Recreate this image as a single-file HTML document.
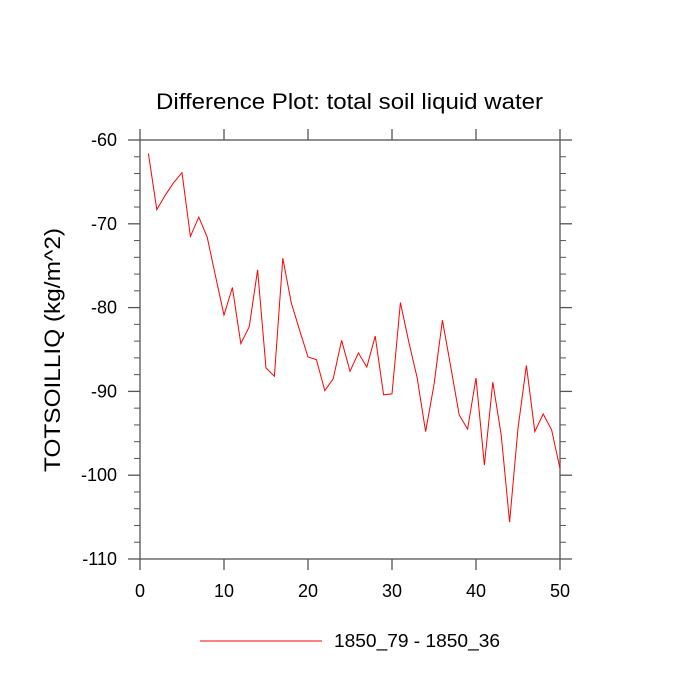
<!DOCTYPE html>
<html><head><meta charset="utf-8"><style>
html,body{margin:0;padding:0;background:#fff;}
svg{display:block;font-family:"Liberation Sans",Arial,sans-serif;}
</style></head><body>
<svg id="chart" width="700" height="700" viewBox="0 0 700 700" xmlns="http://www.w3.org/2000/svg">
<text x="156" y="109" font-size="22" textLength="387" lengthAdjust="spacingAndGlyphs">Difference Plot: total soil liquid water</text>
<text transform="translate(60,472) rotate(-90)" font-size="22" textLength="244" lengthAdjust="spacingAndGlyphs">TOTSOILLIQ  (kg/m^2)</text>
<g id="axes"></g>
<g id="series"></g>
<g>
<line x1="200" y1="641" x2="322" y2="641" stroke="#ff0000" stroke-width="1"/>
<text x="334" y="647" font-size="18" textLength="166" lengthAdjust="spacingAndGlyphs">1850_79 - 1850_36</text>
</g>
</svg>
<script>
const xValues = [1,2,3,4,5,6,7,8,9,10,11,12,13,14,15,16,17,18,19,20,21,22,23,24,25,26,27,28,29,30,31,32,33,34,35,36,37,38,39,40,41,42,43,44,45,46,47,48,49,50];
const diffValues = [-61.6,-68.3,-66.6,-65.1,-63.9,-71.5,-69.2,-71.6,-76.3,-80.9,-77.6,-84.3,-82.3,-75.5,-87.2,-88.2,-74.1,-79.4,-82.7,-85.9,-86.2,-89.9,-88.5,-83.9,-87.6,-85.4,-87.1,-83.4,-90.4,-90.3,-79.4,-84.1,-88.4,-94.8,-89.2,-81.5,-87.1,-92.8,-94.5,-88.4,-98.8,-88.9,-95.2,-105.6,-94.4,-86.9,-94.8,-92.7,-94.6,-99.2];
const xTicks = [0,10,20,30,40,50];
const yTicks = [-110,-100,-90,-80,-70,-60];
const yMinorTicks = [-108,-106,-104,-102,-98,-96,-94,-92,-88,-86,-84,-82,-78,-76,-74,-72,-68,-66,-64,-62];

const L=140,R=560,T=140,B=559;
const xMin=0,xMax=50,yMin=-110,yMax=-60;
function sx(v){return L+(v-xMin)/(xMax-xMin)*(R-L);}
function sy(v){return B-(v-yMin)/(yMax-yMin)*(B-T);}
const NS='http://www.w3.org/2000/svg';
const axes=document.getElementById('axes');
const series=document.getElementById('series');
function mk(tag,attrs,parent){const e=document.createElementNS(NS,tag);for(const k in attrs)e.setAttribute(k,attrs[k]);parent.appendChild(e);return e;}
const frame=mk('rect',{x:L,y:T,width:R-L,height:B-T,fill:'none',stroke:'#555',"stroke-width":1.3},axes);


xTicks.forEach(v=>{
  const x=sx(v);
  const t1=mk('line',{x1:x,y1:B,x2:x,y2:B+11,stroke:'#555',"stroke-width":1.3},axes);
  
  
  const t2=mk('line',{x1:x,y1:T,x2:x,y2:T-11,stroke:'#555',"stroke-width":1.3},axes);
  
  
  const lb=mk('text',{x:x,y:597,"font-size":18,"text-anchor":"middle"},axes);
  lb.textContent=String(v);
  
  
});
yTicks.forEach(v=>{
  const y=sy(v);
  const t1=mk('line',{x1:L-12,y1:y,x2:L,y2:y,stroke:'#555',"stroke-width":1.3},axes);
  
  
  const t2=mk('line',{x1:R,y1:y,x2:R+12,y2:y,stroke:'#555',"stroke-width":1.3},axes);
  
  
  const lb=mk('text',{x:117,y:y+6,"font-size":18,"text-anchor":"end"},axes);
  lb.textContent=String(v);
  
  
});
yMinorTicks.forEach(v=>{
  const y=sy(v);
  const t1=mk('line',{x1:L-6,y1:y,x2:L,y2:y,stroke:'#555',"stroke-width":1},axes);
  
  
  const t2=mk('line',{x1:R,y1:y,x2:R+6,y2:y,stroke:'#555',"stroke-width":1},axes);
  
  
});
const pts=xValues.map((x,i)=>sx(x).toFixed(1)+','+sy(diffValues[i]).toFixed(1)).join(' ');
const line=mk('polyline',{points:pts,fill:'none',stroke:'#ff0000',"stroke-width":1},series);


</script>
</body></html>
